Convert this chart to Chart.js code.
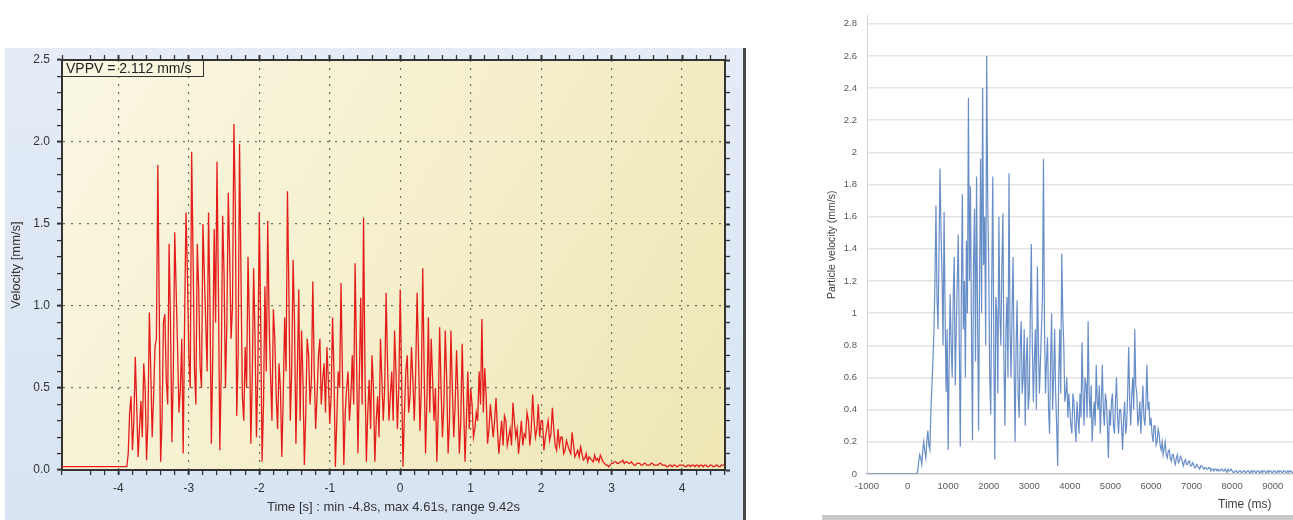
<!DOCTYPE html>
<html><head><meta charset="utf-8">
<script src="https://cdn.jsdelivr.net/npm/chart.js@4.4.1/dist/chart.umd.min.js"></script>
<style>
html,body{margin:0;padding:0;background:#fff;width:1293px;height:520px;overflow:hidden;position:relative;font-family:"Liberation Sans",Arial,sans-serif}
#frameL{position:absolute;left:5px;top:48px;width:738px;height:472px;background:linear-gradient(#e3ecf7,#d8e4f3);border-right:3px solid #4a4a4a}
#cL{position:absolute;left:0;top:0}
#cR{position:absolute;left:800px;top:0}
#vppv{position:absolute;left:62px;top:59px;width:137px;height:16px;border:1.5px solid #333;font-size:14px;line-height:16px;padding-left:3px;color:#222}
#timeR{position:absolute;left:1218px;top:497px;font-size:12px;color:#404040}
#barR{position:absolute;left:822px;top:515px;width:471px;height:5px;background:#c9c9c9}
</style></head><body>
<div id="frameL"></div>
<canvas id="cL" width="750" height="520"></canvas>
<div id="vppv">VPPV = 2.112 mm/s</div>
<canvas id="cR" width="493" height="520"></canvas>
<div id="timeR">Time (ms)</div>
<div id="barR"></div>
<script>
// ---- Left chart (time in s, velocity in mm/s), one value every 0.02 s from -4.8 s ----
const leftStart = -4.8;
const leftStep = 0.02;
const leftVelocity = [
  0.02,0.02,0.02,0.02,0.02,0.02,0.02,0.02,0.02,0.02,
  0.02,0.02,0.02,0.02,0.02,0.02,0.02,0.02,0.02,0.02,
  0.02,0.02,0.02,0.02,0.02,0.02,0.02,0.02,0.02,0.02,
  0.02,0.02,0.02,0.02,0.02,0.02,0.02,0.02,0.02,0.02,
  0.02,0.02,0.02,0.02,0.02,0.02,0.02,
  0.1,0.35,0.45,0.12,0.3,0.69,0.4,0.08,0.25,0.42,0.2,0.65,0.5,0.06,0.3,0.96,0.6,0.2,0.45,0.75,
  0.8,1.86,1.0,0.05,0.3,0.9,0.95,0.55,0.4,1.38,0.9,0.17,0.6,1.45,1.1,0.75,0.35,0.5,0.8,0.1,
  0.9,1.57,1.2,0.7,0.5,1.94,1.3,0.62,0.4,1.38,1.1,0.63,0.5,1.5,1.2,0.9,0.6,1.57,1.0,0.16,
  0.7,1.47,0.9,1.88,1.1,0.12,0.6,1.55,1.2,0.5,0.9,1.69,1.3,0.8,1.0,2.11,1.6,0.33,0.7,1.99,
  1.2,0.45,0.3,0.75,0.5,1.3,0.9,0.16,0.55,1.23,0.8,0.2,0.6,1.57,0.9,0.05,0.4,1.12,0.6,1.52,
  0.9,0.57,0.3,0.98,0.8,0.45,0.25,0.65,0.5,0.08,0.45,0.93,0.6,1.7,1.1,0.3,0.6,1.28,0.9,0.16,
  0.6,1.1,0.3,0.85,0.55,0.03,0.35,0.8,0.7,0.4,0.55,1.15,0.6,0.25,0.45,0.7,0.8,0.4,0.55,0.65,
  0.35,0.75,0.55,0.28,0.45,0.93,0.6,0.02,0.3,0.6,0.5,1.14,0.6,0.03,0.35,0.5,0.6,0.3,0.45,0.7,
  0.4,1.26,0.7,0.1,0.55,1.05,0.4,1.54,0.6,0.05,0.35,0.55,0.25,0.7,0.5,0.05,0.3,0.45,0.2,0.8,
  0.55,0.3,0.5,1.08,0.65,0.3,0.45,0.6,0.3,0.85,0.6,0.25,0.5,1.1,0.55,0.02,0.35,0.6,0.7,0.35,
  0.45,0.75,0.55,0.3,0.6,1.08,0.7,0.24,0.5,1.23,0.6,0.1,0.45,0.93,0.35,0.8,0.55,0.3,0.5,0.05,
  0.35,0.87,0.5,0.2,0.4,0.85,0.55,0.1,0.3,0.85,0.5,0.2,0.4,0.73,0.45,0.1,0.3,0.77,0.4,0.05,
  0.3,0.6,0.25,0.5,0.4,0.2,0.25,0.35,0.3,0.6,0.4,0.92,0.35,0.62,0.45,0.16,0.25,0.4,0.3,0.2,
  0.3,0.44,0.25,0.1,0.2,0.3,0.15,0.33,0.3,0.15,0.2,0.25,0.15,0.41,0.3,0.2,0.25,0.1,0.2,0.3,
  0.15,0.22,0.2,0.35,0.3,0.15,0.25,0.46,0.3,0.2,0.25,0.4,0.2,0.3,0.3,0.12,0.2,0.25,0.3,0.18,
  0.22,0.38,0.25,0.15,0.12,0.25,0.15,0.2,0.2,0.1,0.12,0.18,0.15,0.12,0.1,0.23,0.15,0.08,0.1,0.12,
  0.08,0.14,0.1,0.06,0.07,0.1,0.05,0.08,0.07,0.06,0.05,0.09,0.06,0.07,0.05,0.09,0.07,0.05,0.04,0.03,
  0.03,0.02,0.03,0.04,0.04,0.05,0.05,0.04,0.04,0.05,0.05,0.06,0.04,0.05,0.05,0.04,0.04,0.05,0.04,0.03,
  0.03,0.04,0.04,0.04,0.03,0.03,0.04,0.04,0.03,0.03,0.03,0.04,0.04,0.03,0.03,0.03,0.03,0.04,0.04,0.03,
  0.03,0.03,0.02,0.02,0.03,0.03,0.02,0.03,0.03,0.02,0.02,0.03,0.03,0.03,0.03,0.02,0.02,0.03,0.03,0.02,
  0.03,0.03,0.02,0.03,0.03,0.02,0.03,0.03,0.02,0.03,0.03,0.02,0.02,0.03,0.03,0.02,0.02,0.03,0.03,0.02,
  0.02,0.03,0.03,0.03
];
const leftXMajor = [-4,-3,-2,-1,0,1,2,3,4];
const leftYMajor = [0,0.5,1,1.5,2,2.5];

// ---- Right chart (time in ms, particle velocity in mm/s), one value every 25 ms from -1000 ms ----
const rightStart = -1000;
const rightStep = 25;
const rightVelocity = [
  0,0,0,0,0,0,0,0,0,0,
  0,0,0,0,0,0,0,0,0,0,
  0,0,0,0,0,0,0,0,0,0,
  0,0,0,0,0,0,0,0,0,0,
  0,0,0,0,0,0,0,0,0,0,
  0.02,0.08,0.12,0.1,0.06,0.15,0.2,0.14,0.1,0.2,0.27,0.18,0.15,0.4,0.55,0.7,0.88,1.2,1.67,1.1,
  0.9,1.4,1.9,1.5,1.22,0.8,1.63,1.0,0.51,0.9,0.15,0.7,1.12,0.8,0.6,1.1,1.35,0.55,0.9,1.2,
  1.49,0.8,0.17,1.1,1.74,0.9,1.2,0.6,1.45,1.0,2.34,1.2,1.79,0.9,0.21,1.3,1.65,0.7,1.85,1.0,
  0.27,1.2,1.96,1.0,2.4,1.3,1.6,0.8,2.6,1.7,1.3,0.6,0.37,1.2,1.85,0.8,0.09,1.1,1.0,0.5,
  1.6,1.0,0.8,1.3,1.62,0.7,0.3,0.9,1.1,0.6,1.87,0.9,0.6,1.0,1.35,0.7,0.2,0.8,1.08,0.5,
  0.35,0.8,0.95,0.5,0.6,0.9,0.3,0.7,0.85,0.4,0.5,1.0,1.43,0.8,0.45,0.7,0.9,0.4,1.29,0.8,
  0.5,0.7,0.9,1.1,1.96,0.9,0.5,0.7,0.85,0.4,0.25,0.7,1.0,0.4,0.6,0.9,0.5,0.3,0.05,0.6,
  0.9,0.5,1.37,1.0,0.8,0.45,0.5,0.6,0.35,0.5,0.4,0.3,0.25,0.5,0.45,0.3,0.2,0.45,0.35,0.25,
  0.5,0.35,0.82,0.5,0.3,0.6,0.55,0.35,0.95,0.5,0.35,0.55,0.2,0.35,0.45,0.3,0.68,0.45,0.4,0.55,
  0.25,0.45,0.68,0.4,0.3,0.5,0.45,0.3,0.1,0.4,0.3,0.45,0.5,0.3,0.25,0.45,0.6,0.35,0.25,0.4,
  0.4,0.3,0.15,0.35,0.45,0.25,0.3,0.5,0.79,0.45,0.3,0.5,0.6,0.4,0.9,0.55,0.5,0.3,0.35,0.45,
  0.25,0.4,0.55,0.35,0.3,0.45,0.68,0.4,0.45,0.3,0.35,0.25,0.2,0.3,0.3,0.18,0.2,0.28,0.25,0.18,
  0.15,0.2,0.12,0.16,0.2,0.12,0.1,0.14,0.15,0.1,0.08,0.12,0.12,0.08,0.06,0.1,0.12,0.07,0.08,0.11,
  0.1,0.07,0.05,0.08,0.09,0.06,0.06,0.08,0.08,0.05,0.05,0.07,0.06,0.04,0.04,0.06,0.05,0.04,0.03,0.05,
  0.05,0.04,0.03,0.04,0.04,0.03,0.03,0.04,0.04,0.02,0.03,0.03,0.02,0.03,0.03,0.02,0.03,0.02,0.02,0.03,
  0.03,0.02,0.02,0.03,0.02,0.01,0.03,0.02,0.02,0.03,0.02,0.01,0.01,0.02,0.02,0.01,0.01,0.02,0.02,0.01,
  0.01,0.02,0.02,0.01,0.01,0.02,0.02,0.01,0.01,0.02,0.01,0.02,0.02,0.01,0.01,0.02,0.02,0.01,0.01,0.02,
  0.01,0.02,0.02,0.01,0.01,0.02,0.01,0.02,0.02,0.01,0.01,0.02,0.02,0.01,0.01,0.02,0.01,0.02,0.02,0.01,
  0.01,0.02,0.02,0.01,0.01,0.02,0.01,0.02,0.02,0.01,0.01
];
const rightXTicks = [-1000,0,1000,2000,3000,4000,5000,6000,7000,8000,9000];
const rightYTicks = [0,0.2,0.4,0.6,0.8,1,1.2,1.4,1.6,1.8,2,2.2,2.4,2.6,2.8];

Chart.defaults.font.family = "'Liberation Sans', Arial, sans-serif";

const isIn = (v, list) => list.some(m => Math.abs(m - v) < 1e-6);

const plotBg = {
  id: 'plotBg',
  beforeDraw(chart, args, opts) {
    if (!opts || !opts.colors) return;
    const {ctx, chartArea: {left, top, right, bottom}} = chart;
    const g = ctx.createLinearGradient(left, top, right, bottom);
    g.addColorStop(0, opts.colors[0]);
    g.addColorStop(0.5, opts.colors[1]);
    g.addColorStop(1, opts.colors[2]);
    ctx.save();
    ctx.fillStyle = g;
    ctx.fillRect(left, top, right - left, bottom - top);
    ctx.restore();
  }
};

const gridCol = (list) => (c) => (c.tick && isIn(c.tick.value, list)) ? '#6e6d5c' : 'rgba(0,0,0,0)';
const tickW = (list) => (c) => (c.tick && isIn(c.tick.value, list)) ? 2 : 1.3;

new Chart(document.getElementById('cL'), {
  type: 'line',
  data: {
    datasets: [{
      data: leftVelocity.map((v, i) => ({x: leftStart + i * leftStep, y: v})),
      borderColor: '#e41c1c', borderWidth: 1.3, pointRadius: 0, tension: 0,
      xAxisID: 'x', yAxisID: 'y'
    }]
  },
  plugins: [plotBg],
  options: {
    responsive: false, animation: false, events: [],
    layout: {padding: {left: 0, top: 55, right: 20, bottom: 0}},
    plugins: {legend: {display: false}, tooltip: {enabled: false},
      plotBg: {colors: ['#faf7e3', '#f5efcc', '#eee6b4']}},
    scales: {
      x: {
        type: 'linear', position: 'bottom', min: -4.8, max: 4.61,
        afterFit: s => { s.height = 50; },
        ticks: {stepSize: 0.2, autoSkip: false, maxRotation: 0, color: '#333', font: {size: 12}, padding: 6,
          callback: v => isIn(v, leftXMajor) ? String(Math.round(v)) : ''},
        grid: {color: gridCol(leftXMajor), lineWidth: 1.2, tickLength: 5, tickColor: '#333', tickWidth: tickW(leftXMajor)},
        border: {display: true, color: '#333', width: 2, dash: [2, 6]},
        title: {display: true, text: 'Time [s] : min -4.8s, max 4.61s, range 9.42s', color: '#333',
          font: {size: 13}, padding: {top: 0, bottom: 5}}
      },
      x2: {
        type: 'linear', position: 'top', min: -4.8, max: 4.61,
        afterFit: s => { s.height = 5; },
        ticks: {display: false, stepSize: 0.2, autoSkip: false},
        grid: {drawOnChartArea: false, tickLength: 5, tickColor: '#333', tickWidth: tickW(leftXMajor)},
        border: {display: true, color: '#333', width: 2}
      },
      y: {
        type: 'linear', position: 'left', min: 0, max: 2.5,
        afterFit: s => { s.width = 62; },
        ticks: {stepSize: 0.1, autoSkip: false, color: '#333', font: {size: 12}, padding: 7,
          callback: v => isIn(v, leftYMajor) ? v.toFixed(1) : ''},
        grid: {color: gridCol(leftYMajor), lineWidth: 1.2, tickLength: 5, tickColor: '#333', tickWidth: tickW(leftYMajor)},
        border: {display: true, color: '#333', width: 2, dash: [2, 6]},
        title: {display: true, text: 'Velocity [mm/s]', color: '#333', font: {size: 13}, padding: {top: 9, bottom: 0}}
      },
      y2: {
        type: 'linear', position: 'right', min: 0, max: 2.5,
        afterFit: s => { s.width = 5; },
        ticks: {display: false, stepSize: 0.1, autoSkip: false},
        grid: {drawOnChartArea: false, tickLength: 5, tickColor: '#333', tickWidth: tickW(leftYMajor)},
        border: {display: true, color: '#333', width: 2}
      }
    }
  }
});

new Chart(document.getElementById('cR'), {
  type: 'line',
  data: {
    datasets: [{
      data: rightVelocity.map((v, i) => ({x: rightStart + i * rightStep, y: v})),
      borderColor: 'rgba(66,114,186,0.8)', borderWidth: 1.2, pointRadius: 0, tension: 0,
      xAxisID: 'x', yAxisID: 'y'
    }]
  },
  options: {
    responsive: false, animation: false, events: [],
    layout: {padding: {left: 0, top: 7, right: 0, bottom: 0}},
    plugins: {legend: {display: false}, tooltip: {enabled: false}},
    scales: {
      x: {
        type: 'linear', position: 'bottom', min: -1000, max: 9500,
        afterFit: s => { s.height = 46; },
        afterBuildTicks: s => { s.ticks = rightXTicks.map(v => ({value: v})); },
        ticks: {autoSkip: false, maxRotation: 0, color: '#595959', font: {size: 9.5}, padding: 7,
          callback: v => String(Math.round(v))},
        grid: {display: false, drawTicks: false},
        border: {display: true, color: '#c4c4c4', width: 1.5}
      },
      y: {
        type: 'linear', position: 'left', min: 0, max: 2.85,
        afterFit: s => { s.width = 67; },
        afterBuildTicks: s => { s.ticks = rightYTicks.map(v => ({value: v})); },
        ticks: {autoSkip: false, color: '#595959', font: {size: 9.5}, padding: 10,
          callback: v => String(Number(v.toFixed(1)))},
        grid: {color: c => (c.tick && c.tick.value > 0) ? '#e4e4e4' : 'rgba(0,0,0,0)',
          lineWidth: 1.5, drawTicks: false},
        border: {display: true, color: '#d2d2d2', width: 1},
        title: {display: true, text: 'Particle velocity (mm/s)', color: '#404040', font: {size: 10.5}, padding: {top: 26, bottom: 0}}
      }
    }
  }
});
</script>
</body></html>
